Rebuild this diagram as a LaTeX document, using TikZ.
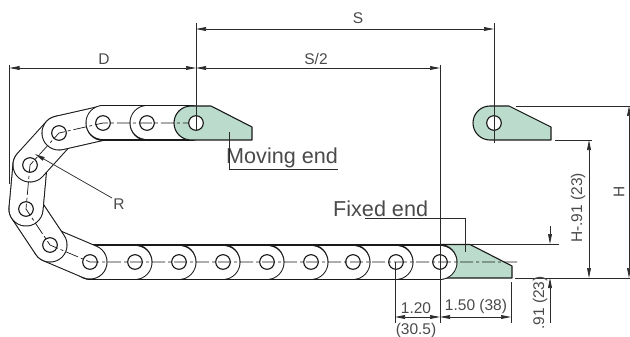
\documentclass[tikz,border=0pt]{standalone}
\usepackage{fontspec}
\setmainfont{Liberation Sans}
\usetikzlibrary{arrows.meta}
\definecolor{endgreen}{HTML}{BBDCCD}
\definecolor{dimgrey}{HTML}{2A2A2A}
\definecolor{txtgrey}{HTML}{4A4A4A}
\tikzset{
  x=1pt,y=-1pt,
  dimline/.style={draw=dimgrey,line width=0.7pt,{Triangle[length=10pt,width=3.8pt]}-{Triangle[length=10pt,width=3.8pt]}},
  oneline/.style={draw=dimgrey,line width=0.7pt,-{Triangle[length=10pt,width=3.8pt]}},
  extline/.style={draw=dimgrey,line width=0.7pt},
  outline/.style={draw=black!90,line width=1.1pt,line join=round},
  hole/.style={draw=black!90,line width=1.1pt,fill=white},
  centre/.style={draw=black!90,line width=0.7pt,dash pattern=on 13pt off 3pt on 3pt off 3pt},
  small/.style={text=txtgrey,font=\fontsize{15.5}{16}\selectfont,inner sep=0pt},
  big/.style={text=txtgrey,font=\fontsize{21.6}{22}\selectfont,inner sep=0pt},
}
\newcommand{\chainlink}[2]{%
  \draw[line width=35.1pt,black!90,line cap=round] (#1) -- (#2);
  \draw[line width=33pt,white,line cap=round] (#1) -- (#2);}
\begin{document}
\begin{tikzpicture}
\useasboundingbox (0,0) rectangle (630,337);
\fill[white] (0,0) rectangle (630,337);
% pin centres
\coordinate (b1) at (90,262);
\coordinate (b2) at (135,262);
\coordinate (b3) at (179,262);
\coordinate (b4) at (223,262);
\coordinate (b5) at (267,262);
\coordinate (b6) at (311,262);
\coordinate (b7) at (353,262);
\coordinate (b8) at (396,262);
\coordinate (b9) at (440,262);
\coordinate (c1) at (50,245);
\coordinate (c2) at (26,209);
\coordinate (c3) at (30,165);
\coordinate (c4) at (59,133);
\coordinate (t1) at (103,123);
\coordinate (t2) at (147,123);
\coordinate (t3) at (191,123);
\coordinate (t4) at (196,123);
\coordinate (m1) at (494,123);
% fixed end
\draw[outline,fill=endgreen] (440,244.5) -- (470,244.5) -- (512,266) -- (512,278) -- (440,278) -- cycle;
% chain, laid link over link
\chainlink{b9}{b8}
\chainlink{b8}{b7}
\chainlink{b7}{b6}
\chainlink{b6}{b5}
\chainlink{b5}{b4}
\chainlink{b4}{b3}
\chainlink{b3}{b2}
\chainlink{b2}{b1}
\chainlink{b1}{c1}
\chainlink{c1}{c2}
\chainlink{c2}{c3}
\chainlink{c3}{c4}
\chainlink{c4}{t1}
\chainlink{t1}{t2}
\chainlink{t2}{t3}
% moving end on the chain
\draw[outline,fill=endgreen] (191,106) -- (211,106) -- (252,127) -- (252,140) -- (191,140) arc[start angle=90,end angle=270,radius=17] -- cycle;
% moving end, free-standing
\draw[outline,fill=endgreen] (490,106) -- (509,106) -- (551,127) -- (551,140) -- (490,140) arc[start angle=90,end angle=270,radius=17] -- cycle;
% centre lines
\draw[centre] (517,262) -- (b9) -- (b1) -- (c1) -- (c2) -- (c3) -- (c4) -- (t1) -- (t4);
% holes
\foreach \p in {b1,b2,b3,b4,b5,b6,b7,b8,b9,c1,c2,c3,c4,t1,t2}
  \draw[hole,fill opacity=0] (\p) circle[radius=7.3];
\draw[hole] (t4) circle[radius=7.3];
\draw[hole] (m1) circle[radius=7.3];
% extension lines
\coordinate (sl) at (196,23);  \coordinate (sle) at (196,130);
\coordinate (sr) at (494,23);  \coordinate (sre) at (494,143);
\coordinate (dl) at (9.5,65);  \coordinate (dle) at (9.5,184);
\coordinate (hl) at (440,65);  \coordinate (hle) at (440,323);
\coordinate (pl) at (395,262); \coordinate (ple) at (395,323);
\coordinate (el) at (511,282); \coordinate (ele) at (511,323);
\draw[extline] (sl) -- (sle);
\draw[extline] (sr) -- (sre);
\draw[extline] (dl) -- (dle);
\draw[extline] (hl) -- (hle);
\draw[extline] (pl) -- (ple);
\draw[extline] (el) -- (ele);
\coordinate (h1) at (516,106); \coordinate (h1e) at (630,106);
\draw[extline] (h1) -- (h1e);
\coordinate (h2) at (555,140); \coordinate (h2e) at (592,140);
\draw[extline] (h2) -- (h2e);
\coordinate (h3) at (470,244); \coordinate (h3e) at (559,244);
\draw[extline] (h3) -- (h3e);
\coordinate (h4) at (515,278); \coordinate (h4e) at (630,278);
\draw[extline] (h4) -- (h4e);
% dimensions
\coordinate (s1) at (196,29);  \coordinate (s2) at (494,29);
\draw[dimline] (s1) -- (s2);
\node[small] (labS) at (358,18) {S};
\coordinate (d1) at (9.5,68);  \coordinate (d2) at (196,68);
\draw[dimline] (d1) -- (d2);
\node[small] (labD) at (104,59) {D};
\coordinate (e2) at (440,68);
\draw[dimline] (d2) -- (e2);
\node[small] (labS2) at (316,59) {S/2};
\coordinate (k1) at (395,317); \coordinate (k2) at (440,317); \coordinate (k3) at (511,317);
\draw[dimline] (k1) -- (k2);
\draw[dimline] (k2) -- (k3);
\node[small] (lab120) at (416,308) {1.20};
\node[small] (lab305) at (416,330) {(30.5)};
\node[small] (lab150) at (476,306) {1.50 (38)};
% .91 (23)
\coordinate (v1) at (550,226); \coordinate (v1e) at (550,244);
\draw[oneline] (v1) -- (v1e);
\coordinate (v2) at (550,323); \coordinate (v2e) at (550,278);
\draw[oneline] (v2) -- (v2e);
\node[small,rotate=90] (lab91) at (540,303) {.91 (23)};
% H-.91 (23)
\coordinate (w1) at (589,140); \coordinate (w2) at (589,278);
\draw[dimline] (w1) -- (w2);
\node[small,rotate=90] (labH91) at (578,208) {H-.91 (23)};
% H
\coordinate (x1) at (629,106); \coordinate (x2) at (629,278);
\draw[dimline] (x1) -- (x2);
\node[small,rotate=90] (labH) at (619,192) {H};
% R
\node[small] (labR) at (119,204) {R};
\coordinate (r1) at (112,198); \coordinate (r2) at (35,154);
\draw[oneline] (r1) -- (r2);
% end labels
\node[big,anchor=base west] (labM) at (226,164) {Moving end};
\coordinate (m2) at (229,132); \coordinate (m3) at (229,169); \coordinate (m4) at (338,169);
\draw[extline] (m2) -- (m3) -- (m4);
\node[big,anchor=base west] (labF) at (333,216) {Fixed end};
\coordinate (f1) at (365,218); \coordinate (f2) at (465,218); \coordinate (f3) at (465,252);
\draw[extline] (f1) -- (f2) -- (f3);
\end{tikzpicture}
\end{document}
